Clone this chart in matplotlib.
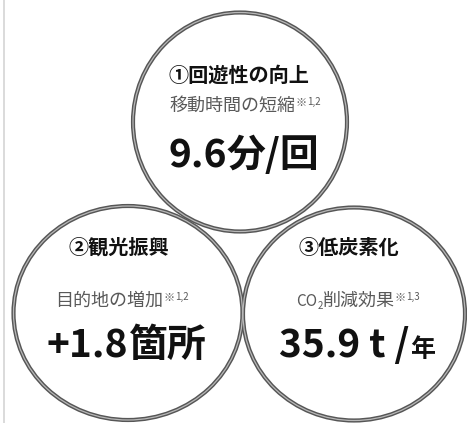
import matplotlib
matplotlib.use("Agg")
import matplotlib.pyplot as plt
from matplotlib.patches import Ellipse

plt.rcParams['font.family'] = ['Noto Sans CJK JP', 'DejaVu Sans']

# contents of the three circles
titles = ["①回遊性の向上", "②観光振興", "③低炭素化"]
subtitles = ["移動時間の短縮", "目的地の増加", "削減効果"]
notes = ["1,2", "1,2", "1,3"]
values = ["9.6", "+1.8", "35.9 t /"]
units = ["分/回", "箇所", "年"]

W, H = 467, 423
fig = plt.figure(figsize=(W / 100, H / 100), dpi=100)
ax = fig.add_axes([0, 0, 1, 1])
ax.set_xlim(0, W)
ax.set_ylim(H, 0)
ax.axis('off')
renderer = fig.canvas.get_renderer()

# left page border
ax.plot([3.5, 3.5], [0, H], color='#d4d4d4', lw=1.2)

# circle layout: center x, center y, width, height
circles = [(240, 122, 214, 219), (128, 313, 229, 214), (354, 314, 222, 213)]
for cx, cy, w, h in circles:
    ax.add_patch(Ellipse((cx, cy), w, h, fill=False, ec='#565656', lw=3.0, zorder=2))
    ax.add_patch(Ellipse((cx, cy), w, h, fill=False, ec='#b8b8b8', lw=0.9, zorder=3))


def draw_runs(cx, base, runs):
    # runs: (text, size, weight, color, rise in px)
    texts = []
    for s, size, weight, color, rise in runs:
        t = ax.text(0, base - rise, s, fontsize=size, fontweight=weight,
                    color=color, ha='left', va='baseline', zorder=5)
        texts.append(t)
    widths = [t.get_window_extent(renderer).width for t in texts]
    x = cx - sum(widths) / 2
    for t, w in zip(texts, widths):
        t.set_x(x)
        x += w


# text layout: title center/baseline, subtitle, value
layout = [
    (239, 82, 245, 111, 244, 167),
    (119, 254, 122, 306, 126, 357),
    (349, 254, 358, 306, 357, 357),
]
gray = '#595959'
for i, (tx, ty, sx, sy, vx, vy) in enumerate(layout):
    draw_runs(tx, ty, [(titles[i], 14.5, 'bold', '#111111', 0)])
    sub = []
    if i == 2:
        sub += [("CO", 11, 'normal', gray, 0), ("2", 7, 'normal', gray, -3)]
    sub += [(subtitles[i], 13, 'normal', gray, 0),
            ("※", 8, 'normal', gray, 5),
            (notes[i], 7, 'normal', gray, 6)]
    draw_runs(sx, sy, sub)
    unit_size = 18 if i == 2 else 28
    draw_runs(vx, vy, [(values[i], 28, 'bold', '#111111', 0),
                       (units[i], unit_size, 'bold', '#111111', 0)])

fig.savefig("out.png", dpi=100, facecolor='white')
